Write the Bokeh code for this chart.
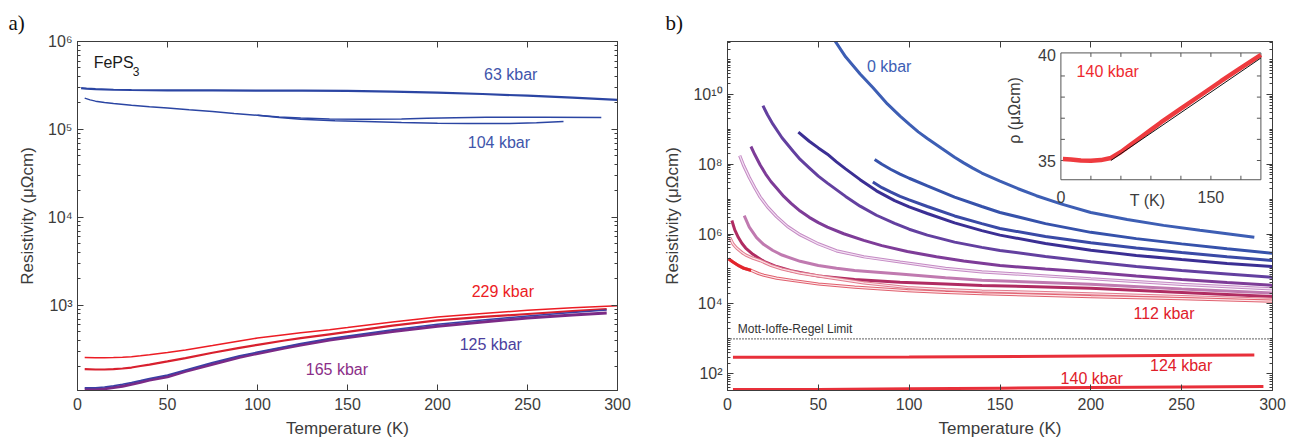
import math
from bokeh.plotting import figure
from bokeh.models import Range1d, LinearAxis, LogAxis, FixedTicker, Label, LinearScale
from bokeh.layouts import row
from bokeh.embed import file_html
from bokeh.resources import INLINE
from bokeh.core.properties import value

FONT = "Liberation Sans"
SERIF = "Liberation Serif"
AX = "#3c3c3c"

# ---------------- panel a data (Temperature K, resistivity uOhm cm) ----------------
a63_T = [2, 5, 10, 20, 30, 50, 75, 100, 125, 150, 175, 200, 225, 250, 275, 300]
a63_R = [2.95e5, 2.91e5, 2.87e5, 2.83e5, 2.81e5, 2.79e5, 2.78e5, 2.77e5, 2.77e5, 2.75e5, 2.70e5,
         2.63e5, 2.53e5, 2.42e5, 2.30e5, 2.17e5]
a104u_T = [4, 7, 10, 15, 20, 30, 40, 50, 62, 75, 87, 100, 112, 124, 140, 160, 180, 194, 210, 227, 260, 291]
a104u_R = [2.27e5, 2.17e5, 2.10e5, 2.03e5, 1.97e5, 1.88e5, 1.81e5, 1.76e5, 1.68e5, 1.60e5, 1.52e5,
           1.45e5, 1.39e5, 1.35e5, 1.32e5, 1.31e5, 1.32e5, 1.34e5, 1.36e5, 1.38e5, 1.38e5, 1.37e5]
a104d_T = [100, 112, 124, 143, 160, 180, 200, 217, 240, 255, 270]
a104d_R = [1.45e5, 1.37e5, 1.31e5, 1.26e5, 1.23e5, 1.20e5, 1.18e5, 1.17e5, 1.17e5, 1.19e5, 1.23e5]
a229_T = [4, 10, 15, 20, 25, 30, 35, 40, 50, 60, 75, 90, 100, 115, 124, 140, 150, 175, 200, 225, 250, 275, 300]
a229_R = [256, 255, 255, 256, 258, 262, 268, 275, 292, 312, 350, 395, 426, 465, 490, 530, 560, 650,
          738, 810, 880, 940, 993]
a200_T = [4, 10, 15, 20, 25, 30, 35, 40, 50, 60, 75, 90, 100, 115, 124, 140, 150, 175, 200, 225, 250, 275, 294]
a200_R = [189, 187, 187, 189, 192, 197, 205, 213, 231, 252, 290, 330, 357, 400, 425, 470, 500, 590,
          676, 740, 800, 860, 910]
a125_T = [4, 10, 15, 20, 25, 30, 35, 40, 50, 60, 75, 90, 100, 115, 124, 140, 150, 175, 200, 225, 250, 275, 294]
a125_R = [116, 116, 118, 122, 127, 133, 140, 148, 162, 185, 225, 268, 295, 340, 370, 420, 450, 530,
          610, 685, 760, 830, 890]
a165_T = [4, 10, 15, 20, 25, 30, 35, 40, 50, 60, 75, 90, 100, 115, 124, 140, 150, 175, 200, 225, 250, 275, 294]
a165_R = [111, 111, 113, 117, 121, 127, 134, 142, 155, 178, 215, 258, 285, 328, 355, 405, 432, 505,
          580, 650, 720, 780, 820]

# ---------------- panel b data (log10 of resistivity in uOhm cm) ----------------
bA_T = [59, 65, 73, 80, 88, 95, 100, 105, 110, 118, 125, 130, 135, 140, 150, 160, 170, 184, 200, 220, 240, 260, 290]
bA_L = [11.55, 11.08, 10.59, 10.2, 9.73, 9.38, 9.15, 8.93, 8.74, 8.45, 8.2, 8.04, 7.89, 7.75, 7.52, 7.3, 7.1,
        6.86, 6.62, 6.42, 6.25, 6.11, 5.91]
bB_T = [81, 85, 90, 95, 100, 110, 125, 140, 150, 175, 200, 225, 250, 275, 300]
bB_L = [8.14, 8.0, 7.85, 7.72, 7.6, 7.38, 7.06, 6.79, 6.62, 6.3, 6.05, 5.87, 5.72, 5.58, 5.45]
bC_T = [80, 85, 90, 95, 100, 110, 125, 140, 150, 175, 200, 225, 250, 275, 300]
bC_L = [7.49, 7.33, 7.2, 7.08, 6.98, 6.79, 6.52, 6.3, 6.16, 5.93, 5.75, 5.6, 5.47, 5.35, 5.24]
bD_T = [39, 45, 50, 55, 60, 65, 73, 82, 92, 100, 110, 125, 140, 150, 175, 200, 225, 250, 275, 300]
bD_L = [8.92, 8.66, 8.47, 8.29, 8.07, 7.87, 7.56, 7.24, 6.96, 6.78, 6.59, 6.32, 6.1, 5.97, 5.73, 5.54, 5.39,
        5.27, 5.16, 5.07]
bE_T = [19.5, 22, 25, 30, 36, 40, 45, 50, 55, 65, 73, 82, 92, 100, 110, 125, 140, 150, 175, 200, 225, 250, 275, 300]
bE_L = [9.68, 9.42, 9.15, 8.76, 8.38, 8.14, 7.9, 7.66, 7.46, 7.08, 6.8, 6.54, 6.31, 6.14, 5.97, 5.77, 5.62, 5.53,
        5.36, 5.21, 5.07, 4.96, 4.86, 4.76]
bF_T = [12.9, 15, 18, 21, 24, 27, 31, 35, 40, 45, 50, 55, 64, 75, 85, 99, 115, 130, 150, 175, 200, 225, 250, 275, 300]
bF_L = [8.51, 8.28, 7.98, 7.72, 7.5, 7.32, 7.08, 6.88, 6.66, 6.48, 6.33, 6.2, 6.01, 5.82, 5.67, 5.50, 5.35, 5.23,
        5.10, 5.0, 4.91, 4.8, 4.7, 4.61, 4.53]
bG_T = [6.7, 9, 12, 15, 18, 22, 27, 33, 40, 50, 60, 75, 95, 120, 140, 170, 200, 250, 300]
bG_L = [8.25, 7.95, 7.62, 7.33, 7.06, 6.78, 6.5, 6.22, 5.98, 5.72, 5.52, 5.35, 5.2, 5.02, 4.92, 4.82, 4.72, 4.56, 4.43]
bH_T = [9.2, 12, 16, 20, 25, 30, 40, 50, 60, 70, 95, 120, 140, 170, 200, 250, 300]
bH_L = [6.53, 6.2, 5.9, 5.7, 5.53, 5.4, 5.22, 5.1, 5.02, 4.96, 4.86, 4.75, 4.68, 4.62, 4.56, 4.43, 4.31]
bI_T = [2.4, 4, 6, 8, 10, 14, 20, 27, 35, 50, 70, 95, 120, 140, 170, 200, 250, 300]
bI_L = [6.39, 6.12, 5.9, 5.73, 5.6, 5.42, 5.22, 5.07, 4.95, 4.8, 4.7, 4.62, 4.57, 4.53, 4.49, 4.45, 4.33, 4.21]
bJ_T = [1.3, 3, 5, 8, 10, 14, 18, 24, 30, 40, 55, 75, 99, 120, 140, 170, 200, 250, 300]
bJ_L = [5.9, 5.72, 5.6, 5.47, 5.4, 5.31, 5.24, 5.1, 5.0, 4.88, 4.76, 4.6, 4.47, 4.41, 4.37, 4.33, 4.29, 4.21, 4.13]
bK_T = [0.6, 3, 6, 9, 13, 17, 20, 27, 36, 50, 70, 99, 120, 140, 170, 200, 250, 300]
bK_L = [5.29, 5.2, 5.1, 5.02, 4.96, 4.87, 4.82, 4.74, 4.67, 4.57, 4.48, 4.38, 4.33, 4.29, 4.25, 4.21, 4.15, 4.08]
b124_T = [3, 50, 100, 130, 180, 220, 260, 290]
b124_R = [296, 298, 300, 305, 315, 325, 335, 345]
b140_T = [3, 50, 100, 150, 200, 250, 295]
b140_R = [35.1, 35.2, 36.8, 38.4, 40.0, 41.6, 43.0]
MIR_T = [0, 300]
MIR_R = [1e3, 1e3]

# inset (140 kbar, linear axes)
in_T = [2, 10, 20, 30, 40, 50, 60, 70, 80, 90, 100, 120, 140, 160, 180, 200]
in_R = [35.07, 35.05, 35.0, 34.99, 35.02, 35.12, 35.4, 35.75, 36.1, 36.45, 36.8, 37.45, 38.1, 38.75, 39.38, 40.0]
fit_T = [50, 200]
fit_R = [35.0, 39.85]


def pw(vals):
    return [10 ** v for v in vals]


def style(p, yticks, ylabels, yminor, xticks):
    for ax in p.axis:
        ax.axis_line_color = AX
        ax.major_tick_line_color = AX
        ax.minor_tick_line_color = AX
        ax.major_tick_in = 6
        ax.major_tick_out = 0
        ax.minor_tick_in = 3
        ax.minor_tick_out = 0
        ax.major_label_text_font = FONT
        ax.major_label_text_font_size = "16px"
        ax.major_label_text_color = AX
        ax.axis_label_text_font = FONT
        ax.axis_label_text_font_size = "17px"
        ax.axis_label_text_font_style = "normal"
        ax.axis_label_text_color = AX
    p.xaxis.ticker = FixedTicker(ticks=xticks)
    p.xaxis.minor_tick_line_color = None
    p.xaxis.major_label_standoff = 7
    p.xaxis.axis_label_standoff = 6
    p.yaxis.ticker = FixedTicker(ticks=yticks, minor_ticks=yminor)
    p.yaxis.major_label_overrides = ylabels
    p.yaxis.major_label_standoff = 5
    p.yaxis.axis_label_standoff = 8
    top = LinearAxis(ticker=FixedTicker(ticks=xticks), major_label_text_font_size="1px",
                     major_label_text_color=None,
                     axis_line_color=AX, major_tick_line_color=AX, minor_tick_line_color=None,
                     major_tick_in=6, major_tick_out=0, major_label_standoff=0)
    right = LogAxis(ticker=FixedTicker(ticks=yticks, minor_ticks=yminor), major_label_text_font_size="1px",
                    major_label_text_color=None,
                    axis_line_color=AX, major_tick_line_color=AX, minor_tick_line_color=AX,
                    major_tick_in=6, major_tick_out=0, minor_tick_in=3, minor_tick_out=0,
                    major_label_standoff=0)
    p.add_layout(top, "above")
    p.add_layout(right, "right")
    p.grid.visible = False
    p.outline_line_color = AX
    p.background_fill_color = "white"
    p.border_fill_color = "white"


def panel_title(p, text, offset):
    p.title.text = text
    p.title.text_font = SERIF
    p.title.text_font_size = "21px"
    p.title.text_font_style = "normal"
    p.title.text_color = "#111111"
    p.title.align = "left"
    p.title.offset = offset
    p.title.standoff = 14


SUP = {"0": "⁰", "1": "¹", "2": "²", "3": "³", "4": "⁴", "5": "⁵", "6": "⁶", "7": "⁷", "8": "⁸", "9": "⁹"}


def sup(v):
    n = int(round(math.log10(v)))
    return "10" + "".join(SUP[c] for c in str(n))


XT = [0, 50, 100, 150, 200, 250, 300]


def lab(p, x, y, text, color, size="16px", align="center", font=FONT):
    p.add_layout(Label(x=x, y=y, text=text, text_color=color, text_font=font,
                       text_font_size=size, text_align=align, text_baseline="middle"))


# ---------------- panel a ----------------
pa = figure(x_range=Range1d(0, 300), y_range=Range1d(108, 1e6), y_axis_type="log",
            frame_width=540, frame_height=349, min_border_left=77, min_border_right=30,
            min_border_top=41, min_border_bottom=44, output_backend="svg", toolbar_location=None,
            x_axis_label="Temperature (K)", y_axis_label="Resistivity (μΩcm)")
a_major = [1e3, 1e4, 1e5, 1e6]
a_minor = [k * 10.0 ** n for n in range(2, 6) for k in range(2, 10)]
style(pa, a_major, {v: sup(v) for v in a_major}, a_minor, XT)
panel_title(pa, "a)", -69)

pa.line(a63_T, a63_R, line_color="#2b45a3", line_width=2.2)
pa.line(a104u_T, a104u_R, line_color="#2b45a3", line_width=1.5)
pa.line(a104d_T, a104d_R, line_color="#2b45a3", line_width=1.5)
pa.line(a229_T, a229_R, line_color="#ec1c24", line_width=1.5)
pa.line(a200_T, a200_R, line_color="#d8202e", line_width=2.2)
pa.line(a165_T, a165_R, line_color="#7b2a86", line_width=3)
pa.line(a125_T, a125_R, line_color="#3b3fa5", line_width=1.5)

lab(pa, 240.7, 4.22e5, "63 kbar", "#3f56ab")
lab(pa, 234.1, 7.1e4, "104 kbar", "#3f56ab")
lab(pa, 236.3, 1.44e3, "229 kbar", "#ec1c24")
lab(pa, 229.6, 361, "125 kbar", "#4b3f9e")
lab(pa, 144.1, 187, "165 kbar", "#8b2f88")
lab(pa, 9, 5.77e5, "FePS", "#1a1a1a", align="left")
lab(pa, 30.7, 4.6e5, "3", "#1a1a1a", size="12px", align="left")

# ---------------- panel b ----------------
pb = figure(x_range=Range1d(0, 300), y_range=Range1d(33, 3.3e11), y_axis_type="log",
            frame_width=545, frame_height=349, min_border_left=80, min_border_right=17,
            min_border_top=41, min_border_bottom=44, output_backend="svg", toolbar_location=None,
            x_axis_label="Temperature (K)", y_axis_label="Resistivity (μΩcm)")
b_major = [1e2, 1e4, 1e6, 1e8, 1e10]
b_minor = [k * 10.0 ** n for n in range(1, 12) for k in range(1, 10) if not (k == 1 and n % 2 == 0)]
style(pb, b_major, {v: sup(v) for v in b_major}, b_minor, XT)
panel_title(pb, "b)", -62)

solid = [(bA_T, bA_L, "#3d5eb4"), (bB_T, bB_L, "#3652ab"), (bC_T, bC_L, "#3a4aa6"),
         (bD_T, bD_L, "#3b2f94"), (bE_T, bE_L, "#6340a0"), (bF_T, bF_L, "#7e3c98"),
         (bH_T, bH_L, "#c07ab0"), (bI_T, bI_L, "#b02c62")]
for T, L, c in solid:
    pb.line(T, pw(L), line_color=c, line_width=3)
for T, L, c1, c2 in [(bG_T, bG_L, "#c58ac4", "#f3e3f3"), (bJ_T, bJ_L, "#e27d8f", "#fbe3e8"),
                     (bK_T, bK_L, "#e0606e", "#fde9ec")]:
    pb.line(T, pw(L), line_color=c1, line_width=3.2)
    pb.line(T, pw(L), line_color=c2, line_width=1.2)
pb.line(bK_T[:5], pw(bK_L[:5]), line_color="#e3242b", line_width=3)
pb.line(b124_T, b124_R, line_color="#e8303a", line_width=3)
pb.line(b140_T, b140_R, line_color="#e8303a", line_width=3)
pb.line(MIR_T, MIR_R, line_color="#000000", line_width=1.2, line_dash="1 2")

lab(pb, 89.0, 6.5e10, "0 kbar", "#3d5eb4")
lab(pb, 240.3, 5.3e3, "112 kbar", "#e0202a")
lab(pb, 249.7, 172, "124 kbar", "#e0202a")
lab(pb, 200.5, 71, "140 kbar", "#e0202a")
lab(pb, 5.7, 1.86e3, "Mott-Ioffe-Regel Limit", "#333333", size="12px", align="left")

# ---------------- inset drawn on its own linear scales inside panel b ----------------
INSET_X = (0, 200)
INSET_Y = (34.09, 40.09)
pb.extra_x_ranges = {"ix": Range1d(-333.4, 211.6)}
pb.extra_y_ranges = {"iy": Range1d(24.12, 40.63)}
pb.extra_x_scales = {"ix": LinearScale()}
pb.extra_y_scales = {"iy": LinearScale()}
kw = dict(x_range_name="ix", y_range_name="iy")
pb.quad(left=[INSET_X[0]], right=[INSET_X[1]], bottom=[INSET_Y[0]], top=[INSET_Y[1]],
        fill_color="white", line_color="#555555", line_width=1, **kw)
in_xt = [30, 60, 90, 120, 150, 180]
in_yt = [35, 36, 37, 38, 39]
dy = 4 / 21.14
pb.segment(x0=in_xt, x1=in_xt, y0=[INSET_Y[0]] * 6, y1=[INSET_Y[0] + dy] * 6, line_color="#555555", **kw)
pb.segment(x0=in_xt, x1=in_xt, y0=[INSET_Y[1]] * 6, y1=[INSET_Y[1] - dy] * 6, line_color="#555555", **kw)
pb.segment(x0=[0] * 5, x1=[4] * 5, y0=in_yt, y1=in_yt, line_color="#555555", **kw)
pb.segment(x0=[200] * 5, x1=[196] * 5, y0=in_yt, y1=in_yt, line_color="#555555", **kw)
pb.line(in_T, in_R, line_color="#ee3b3f", line_width=4.5, **kw)
pb.line(fit_T, fit_R, line_color="#111111", line_width=1, **kw)
txt = dict(text_font=value(FONT), text_font_size=value("16px"), text_color=AX, text_baseline="middle", **kw)
pb.text(x=[0, 150], y=[33.26, 33.26], text=["0", "150"], text_align="center", **txt)
pb.text(x=[86.7], y=[33.1], text=["T (K)"], text_align="center", **txt)
pb.text(x=[-5, -5], y=[40, 35], text=["40", "35"], text_align="right", **txt)
pb.text(x=[-46.7], y=[37.37], text=["ρ (μΩcm)"], text_align="center", angle=math.pi / 2, **txt)
pb.text(x=[15.7], y=[39.22], text=["140 kbar"], text_align="left", text_font=value(FONT),
        text_font_size=value("16px"), text_color="#ee2a30", text_baseline="middle", **kw)

layout = row(pa, pb)
open("out.html", "w").write(file_html(layout, INLINE))
